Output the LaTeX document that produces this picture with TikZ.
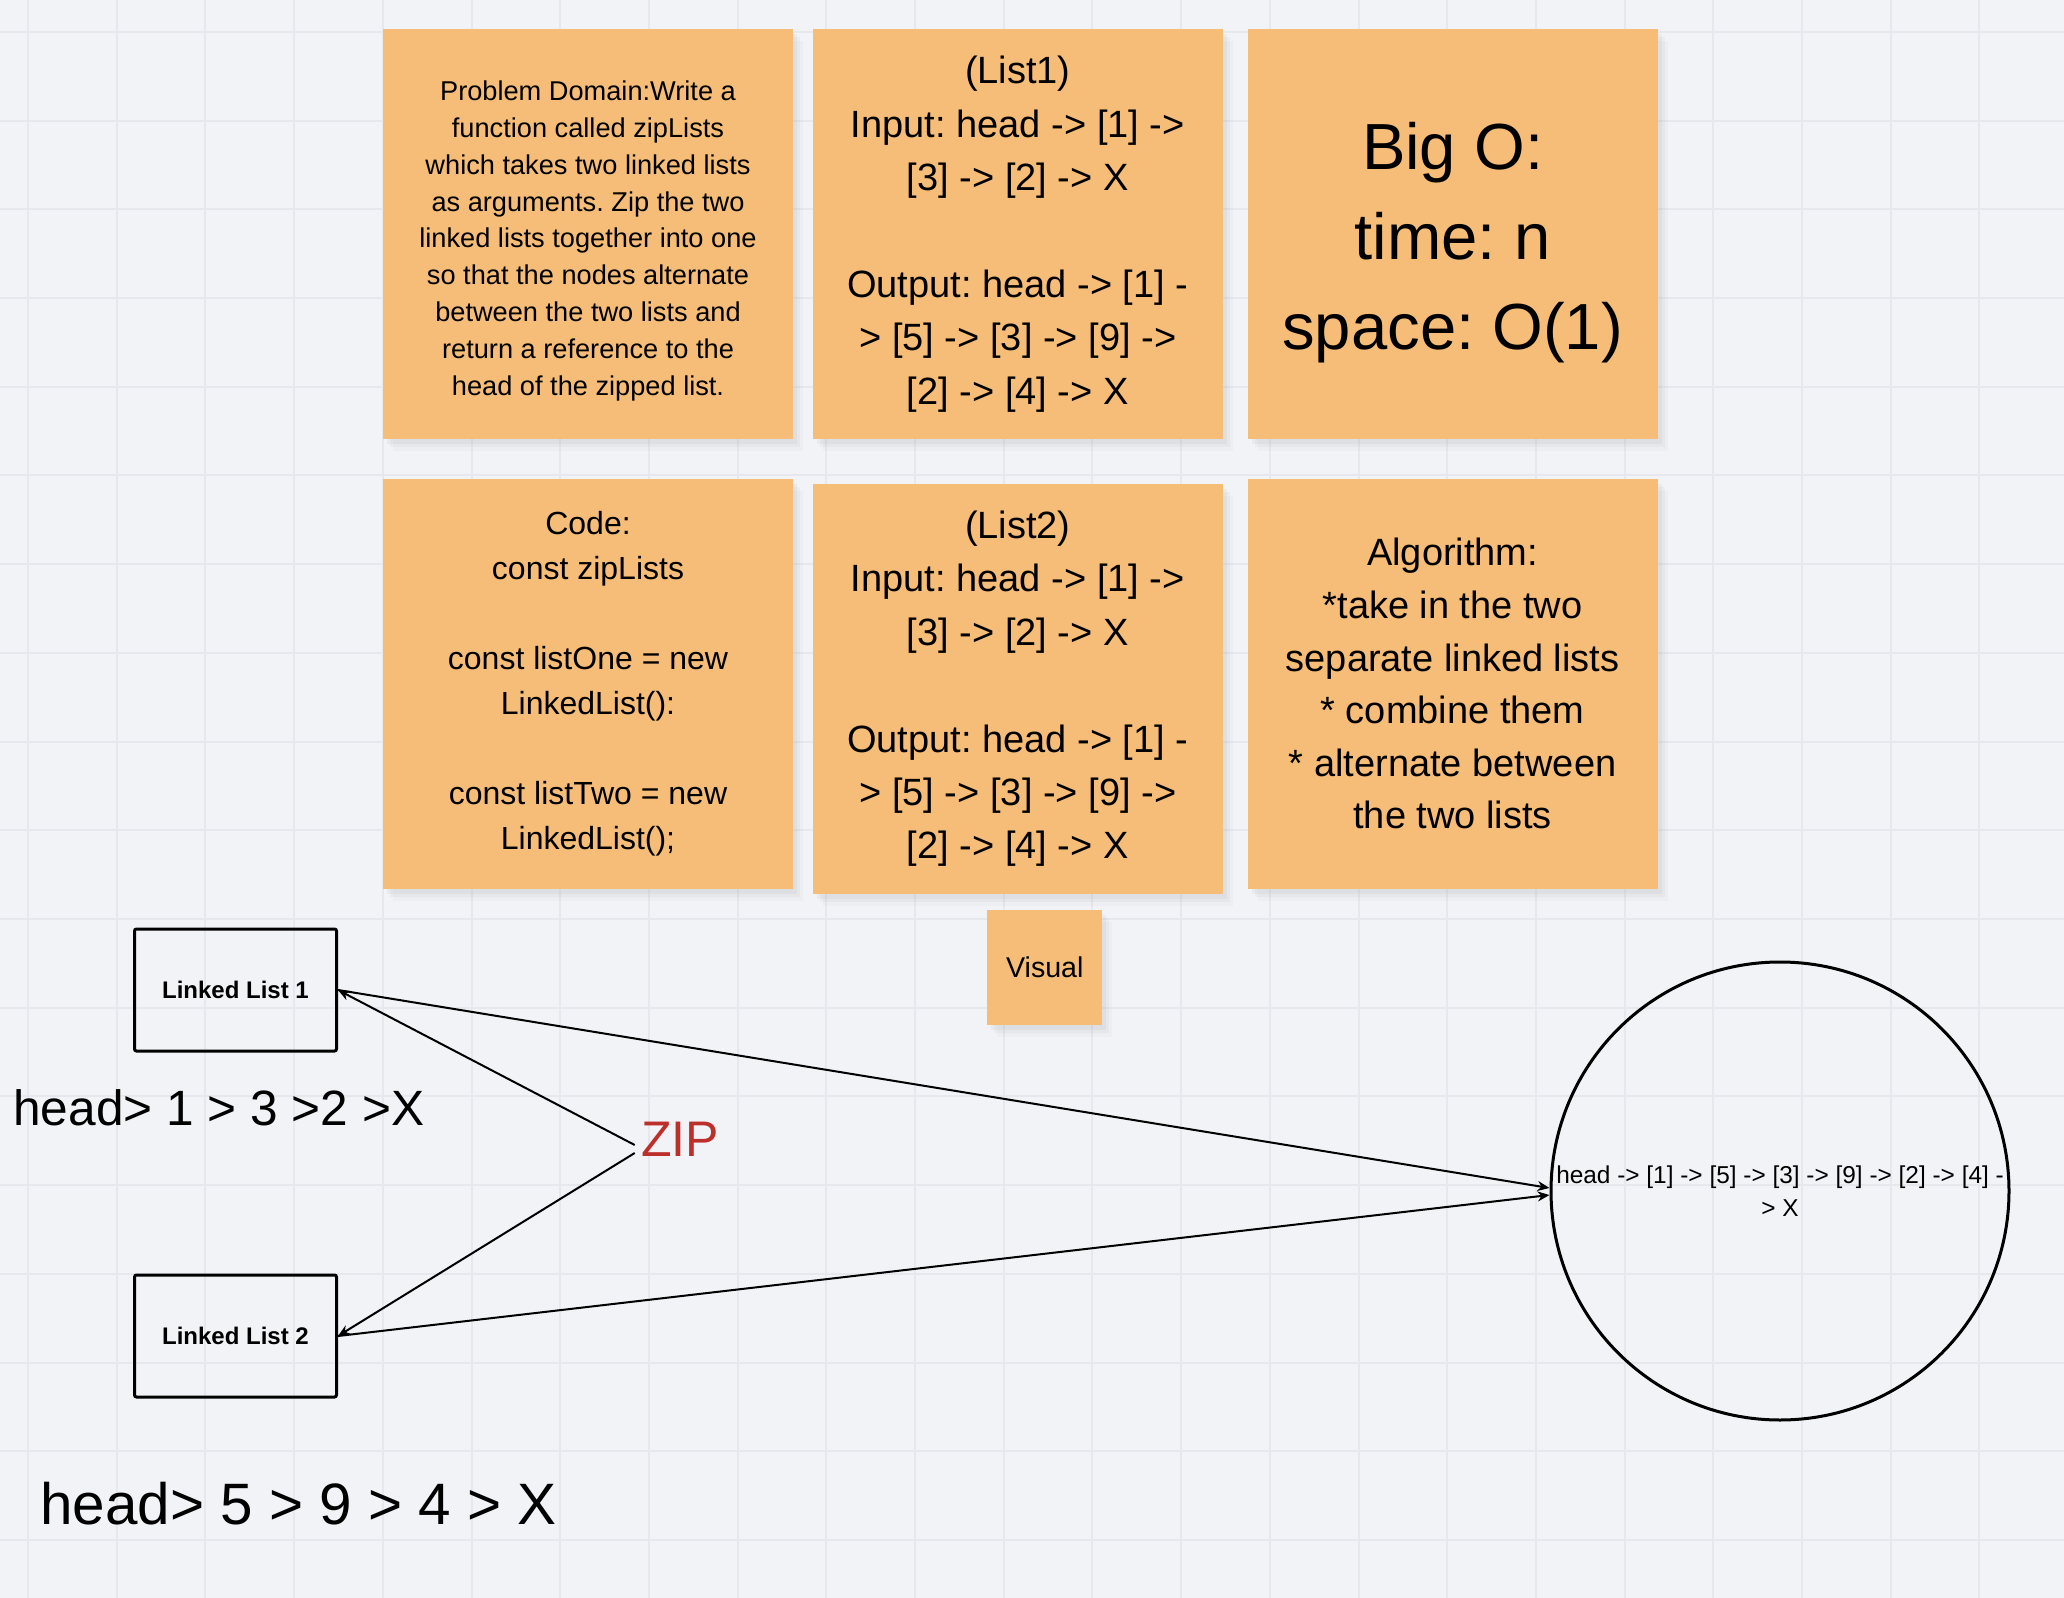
\documentclass[tikz,border=0pt]{standalone}
\usepackage{fontspec}
\setmainfont{Liberation Sans}
\frenchspacing
\usetikzlibrary{positioning,arrows.meta,shadows}

\definecolor{board}{HTML}{F2F3F7}
\definecolor{gridgray}{HTML}{E7E8ED}
\definecolor{notefill}{HTML}{F5BD78}
\definecolor{zipred}{HTML}{BC2F2A}

\begin{document}
\begin{tikzpicture}[x=0.5pt,y=-0.5pt,>={Stealth[length=6pt,width=5pt]},
  sticky/.style={fill=notefill,minimum width=205pt,minimum height=205pt,inner sep=0pt,align=center,
    drop shadow={shadow xshift=2pt,shadow yshift=-2.5pt,opacity=0.07},
    drop shadow={shadow xshift=3.5pt,shadow yshift=-4pt,opacity=0.06},
    drop shadow={shadow xshift=5pt,shadow yshift=-6pt,opacity=0.04}},
  listbox/.style={draw,line width=1.5pt,rounded corners=1pt,minimum width=101pt,minimum height=61pt,
    font=\bfseries\fontsize{12}{14}\selectfont},
  seq/.style={anchor=base west,inner sep=0pt}]

\useasboundingbox (0,0) rectangle (2064,1598);
\fill [board] (0,0) rectangle (2064,1598);
\foreach \gx in {0,...,23}
  \draw [gridgray,line width=1pt] ({28+88.7*\gx},0) -- ({28+88.7*\gx},1598);
\foreach \gy in {0,...,17}
  \draw [gridgray,line width=1pt] (0,{32+88.7*\gy}) -- (2064,{32+88.7*\gy});

% sticky notes
\node [sticky,text height=164pt,font=\fontsize{13.6}{18.4}\selectfont] (prob) at (588,234)
  {Problem Domain:Write a\\ function called zipLists\\ which takes two linked lists\\
   as arguments. Zip the two\\ linked lists together into one\\ so that the nodes alternate\\
   between the two lists and\\ return a reference to the\\ head of the zipped list.};
\node [sticky,font=\fontsize{19}{26.7}\selectfont] (list1) [right=9.5pt of prob]
  {(List1)\\ Input: head -> [1] ->\\{}[3] -> [2] -> X\\ ~\\ Output: head -> [1] -\\
   > [5] -> [3] -> [9] ->\\{}[2] -> [4] -> X};
\node [sticky,text height=122pt,font=\fontsize{32.6}{45}\selectfont] (bigo) [right=12pt of list1]
  {Big O:\\ time: n\\ space: O(1)};

\node [sticky,font=\fontsize{16}{22.5}\selectfont] (code) [below=19.5pt of prob]
  {Code:\\ const zipLists\\ ~\\ const listOne = new\\ LinkedList():\\ ~\\
   const listTwo = new\\ LinkedList();};
\node [sticky,font=\fontsize{19}{26.7}\selectfont] (list2) [below=22pt of list1]
  {(List2)\\ Input: head -> [1] ->\\{}[3] -> [2] -> X\\ ~\\ Output: head -> [1] -\\
   > [5] -> [3] -> [9] ->\\{}[2] -> [4] -> X};
\node [sticky,font=\fontsize{19}{26.3}\selectfont] (algo) [below=19.5pt of bigo]
  {Algorithm:\\ *take in the two\\ separate linked lists\\ * combine them\\
   * alternate between\\ the two lists};

\node [sticky,minimum width=57.5pt,minimum height=57.5pt,font=\fontsize{14.3}{17}\selectfont] (visual)
  [below=7.5pt of list2,xshift=13.5pt] {Visual};

% lists and result
\node [listbox] (ll1) at (235.5,990) {Linked List 1};
\node [listbox] (ll2) [below=110.5pt of ll1] {Linked List 2};

\node [seq,font=\fontsize{24.8}{30}\selectfont] (seq1) at (13,1125) {head> 1 > 3 >2 >X};
\node [seq,font=\fontsize{29.2}{34}\selectfont] (seq2) at (40,1524) {head> 5 > 9 > 4 > X};

\node [text=zipred,inner sep=3pt,font=\fontsize{25}{28}\selectfont] (zip) at (680,1139) {ZIP};

\node [draw,circle,line width=1.5pt,minimum size=229pt,inner sep=0pt,align=center,
  font=\fontsize{12.2}{16.5}\selectfont] (zipped) at (1780,1191)
  {head -> [1] -> [5] -> [3] -> [9] -> [2] -> [4] -\\> X};

\draw [->,line width=1pt] ([yshift=-3pt]zip.west) -- (ll1.east);
\draw [->,line width=1pt] ([yshift=-7pt]zip.west) -- (ll2.east);
\draw [->,line width=1pt] (ll1.east) -- ([yshift=1.5pt]zipped.west);
\draw [->,line width=1pt] (ll2.east) -- ([yshift=-2pt]zipped.west);

\end{tikzpicture}
\end{document}
